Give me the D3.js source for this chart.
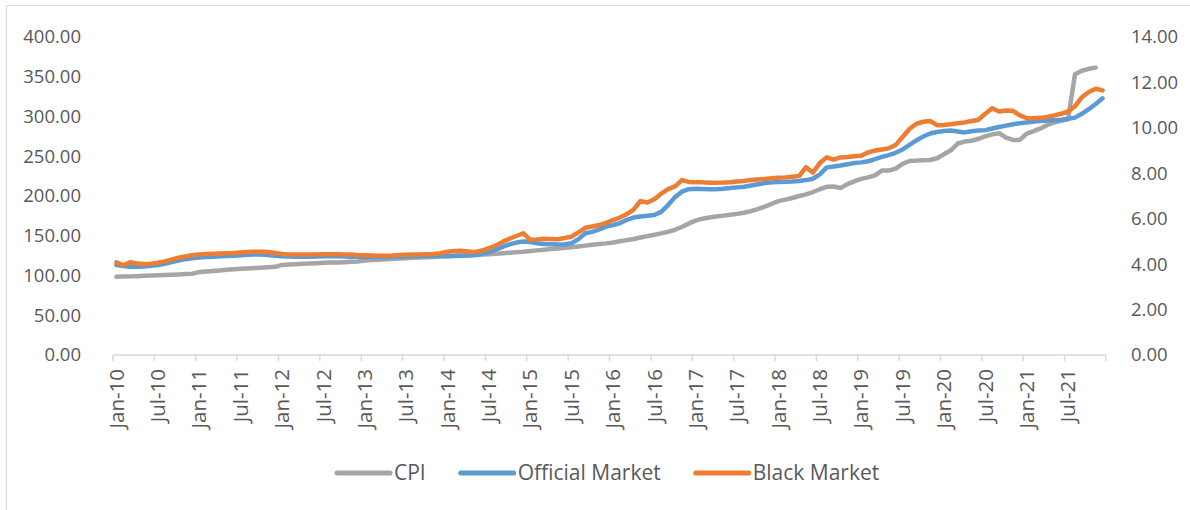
<!DOCTYPE html>
<html>
<head>
<meta charset="utf-8">
<script src="https://cdn.jsdelivr.net/npm/d3@7"></script>
<style>
  body { margin: 0; background: #fff; }
  svg { display: block; }
  text { font-family: "Open Sans", "Liberation Sans", sans-serif; fill: #595959; }
</style>
</head>
<body>
<svg id="chart" width="1190" height="510"></svg>
<script>
// monthly categories Jan-10 .. Dec-21
var months = d3.timeMonth.range(new Date(2010, 0, 1), new Date(2022, 0, 1));

var leftTicks = [0, 50, 100, 150, 200, 250, 300, 350, 400];
var rightTicks = [0, 2, 4, 6, 8, 10, 12, 14];

// CPI (left axis)
var cpi = [
  98.3, 98.6, 98.9, 99.2, 99.6, 100.0, 100.4, 100.7, 101.0, 101.4, 101.8, 102.3,
  104.3, 105.0, 105.7, 106.4, 107.2, 107.8, 108.4, 108.9, 109.4, 109.9, 110.4, 110.9,
  113.3, 113.8, 114.3, 114.7, 115.1, 115.5, 115.9, 116.2, 116.5, 116.8, 117.2, 117.6,
  118.9, 119.4, 119.9, 120.4, 120.9, 121.4, 121.8, 122.2, 122.6, 123.0, 123.4, 123.8,
  124.4, 124.8, 125.2, 125.6, 125.9, 126.3, 126.8, 127.3, 127.9, 128.5, 129.2, 129.9,
  130.8, 131.6, 132.4, 133.2, 134.0, 134.8, 135.5, 136.5, 137.6, 138.6, 139.6, 140.4,
  141.5, 143.0, 144.5, 146.0, 147.8, 149.5, 151.2, 153.0, 155.0, 157.5, 161.0, 165.5,
  169.0, 171.5, 173.0, 174.3, 175.3, 176.3, 177.5, 179.0, 181.0, 183.5, 186.5, 190.0,
  193.5, 195.5, 197.5, 200.0, 202.0, 205.0, 208.5, 211.5, 212.0, 210.0, 215.0, 218.5,
  221.5, 223.5, 226.0, 232.0, 232.0, 234.5, 240.5, 244.0, 244.5, 245.0, 245.3, 247.5,
  252.5, 257.5, 266.0, 268.5, 269.5, 272.0, 275.0, 277.5, 279.0, 273.5, 270.5, 270.5,
  278.5, 281.5, 285.0, 289.3, 292.5, 294.5, 296.5, 353.0, 357.5, 360.0, 361.5, null
];

// Official Market (right axis)
var official = [
  3.96, 3.92, 3.89, 3.88, 3.90, 3.93, 3.96, 4.02, 4.09, 4.16, 4.22, 4.26,
  4.29, 4.31, 4.33, 4.35, 4.36, 4.37, 4.39, 4.41, 4.42, 4.42, 4.40, 4.37,
  4.35, 4.34, 4.33, 4.33, 4.33, 4.34, 4.35, 4.35, 4.35, 4.34, 4.33, 4.32,
  4.31, 4.31, 4.31, 4.31, 4.32, 4.33, 4.34, 4.35, 4.36, 4.36, 4.36, 4.36,
  4.35, 4.36, 4.37, 4.38, 4.40, 4.45, 4.53, 4.64, 4.76, 4.87, 4.95, 5.00,
  4.97, 4.92, 4.89, 4.88, 4.86, 4.88, 4.92, 5.10, 5.36, 5.42, 5.53, 5.65,
  5.72, 5.80, 5.95, 6.05, 6.10, 6.13, 6.16, 6.30, 6.60, 6.95, 7.19, 7.30,
  7.32, 7.31, 7.30, 7.30, 7.32, 7.35, 7.38, 7.41, 7.46, 7.52, 7.57, 7.60,
  7.62, 7.63, 7.64, 7.66, 7.70, 7.76, 7.95, 8.26, 8.30, 8.34, 8.40, 8.45,
  8.48, 8.53, 8.62, 8.72, 8.80, 8.90, 9.05, 9.25, 9.45, 9.62, 9.75, 9.82,
  9.86, 9.88, 9.84, 9.80, 9.85, 9.88, 9.90, 9.97, 10.04, 10.10, 10.16, 10.20,
  10.24, 10.28, 10.30, 10.32, 10.34, 10.36, 10.40, 10.45, 10.62, 10.82, 11.05, 11.30
];

// Black Market (right axis)
var black = [
  4.08, 3.95, 4.08, 4.03, 4.01, 4.02, 4.06, 4.12, 4.20, 4.28, 4.34, 4.39,
  4.43, 4.45, 4.46, 4.47, 4.48, 4.49, 4.51, 4.53, 4.55, 4.55, 4.53, 4.49,
  4.45, 4.43, 4.42, 4.42, 4.42, 4.43, 4.44, 4.44, 4.44, 4.43, 4.42, 4.40,
  4.39, 4.38, 4.37, 4.37, 4.38, 4.40, 4.41, 4.42, 4.43, 4.44, 4.45, 4.48,
  4.55, 4.58, 4.59, 4.56, 4.53, 4.60, 4.70, 4.82, 4.98, 5.12, 5.24, 5.36,
  5.07, 5.09, 5.12, 5.11, 5.10, 5.15, 5.21, 5.40, 5.60, 5.66, 5.72, 5.82,
  5.94, 6.05, 6.20, 6.40, 6.78, 6.71, 6.86, 7.10, 7.30, 7.42, 7.70, 7.62,
  7.60, 7.60, 7.58, 7.58, 7.59, 7.61, 7.64, 7.66, 7.70, 7.73, 7.75, 7.78,
  7.80, 7.82, 7.85, 7.88, 8.27, 8.03, 8.45, 8.70, 8.60, 8.70, 8.72, 8.75,
  8.77, 8.92, 9.00, 9.05, 9.10, 9.25, 9.60, 9.95, 10.18, 10.27, 10.30, 10.12,
  10.13, 10.16, 10.20, 10.24, 10.30, 10.36, 10.62, 10.86, 10.72, 10.76, 10.75, 10.55,
  10.43, 10.42, 10.44, 10.48, 10.55, 10.62, 10.72, 10.95, 11.35, 11.58, 11.72, 11.65
];

var seriesNames = ["CPI", "Official Market", "Black Market"];
var seriesColors = ["#A5A5A5", "#5B9BD5", "#ED7D31"];

var svg = d3.select("#chart");

var margin = { top: 37, right: 84, bottom: 155, left: 113 };
var width = 1190 - margin.left - margin.right;
var height = 510 - margin.top - margin.bottom;

// chart area border (right and bottom edges fall outside the picture)
svg.append("rect")
  .attr("x", 6.5).attr("y", 5.5)
  .attr("width", 1200).attr("height", 540)
  .attr("fill", "none")
  .attr("stroke", "#D9D9D9");

var plot = svg.append("g")
  .attr("transform", "translate(" + margin.left + "," + margin.top + ")");

var x = d3.scaleBand().domain(months).range([0, width]).padding(0);
var yLeft = d3.scaleLinear().domain([0, 400]).range([height, 0]);
var yRight = d3.scaleLinear().domain([0, 14]).range([height, 0]);

var fmtMonth = d3.timeFormat("%b-%y");
var labelled = months.filter(function(d, i) { return i % 6 === 0; });

// left axis
var gl = plot.append("g")
  .call(d3.axisLeft(yLeft).tickValues(leftTicks).tickFormat(d3.format(".2f")).tickSize(0).tickPadding(32));
gl.select(".domain").remove();

// right axis
var gr = plot.append("g")
  .attr("transform", "translate(" + width + ",0)")
  .call(d3.axisRight(yRight).tickValues(rightTicks).tickFormat(d3.format(".2f")).tickSize(0).tickPadding(25));
gr.select(".domain").remove();

[gl, gr].forEach(function(g) {
  g.selectAll("text").style("font-size", "18.5px").attr("fill", "#595959");
});

// x axis line and tick marks at category boundaries
var gx = plot.append("g")
  .attr("transform", "translate(0," + height + ")");

gx.append("line")
  .attr("x1", 0).attr("x2", width)
  .attr("stroke", "#D9D9D9").attr("stroke-width", 1.5);

var tickPos = labelled.map(function(d) { return x(d); }).concat([width]);
gx.selectAll("line.tick")
  .data(tickPos)
  .enter().append("line")
  .attr("class", "tick")
  .attr("x1", function(d) { return d; })
  .attr("x2", function(d) { return d; })
  .attr("y1", 0).attr("y2", 6)
  .attr("stroke", "#D9D9D9").attr("stroke-width", 1.5);

// x labels
var gxl = plot.append("g")
  .attr("transform", "translate(0," + height + ")")
  .call(d3.axisBottom(x).tickValues(labelled).tickFormat(fmtMonth).tickSize(0));
gxl.select(".domain").remove();
gxl.selectAll("text")
  .style("font-size", "20.5px")
  .attr("fill", "#595959")
  .attr("text-anchor", "end")
  .attr("transform", "rotate(-90)")
  .attr("x", -14)
  .attr("y", 0)
  .attr("dy", "0.35em");

// lines
var data = [cpi, official, black];
var scales = [yLeft, yRight, yRight];

data.forEach(function(values, k) {
  var line = d3.line()
    .defined(function(d) { return d != null; })
    .x(function(d, i) { return x(months[i]) + x.bandwidth() / 2; })
    .y(function(d) { return scales[k](d); });

  plot.append("path")
    .datum(values)
    .attr("fill", "none")
    .attr("stroke", seriesColors[k])
    .attr("stroke-width", 4.5)
    .attr("stroke-linejoin", "round")
    .attr("stroke-linecap", "round")
    .attr("d", line);
});

// legend
var legend = svg.append("g").attr("transform", "translate(0,473)");
var lx = 337;
seriesNames.forEach(function(name, k) {
  legend.append("line")
    .attr("x1", lx).attr("x2", lx + 53)
    .attr("stroke", seriesColors[k])
    .attr("stroke-width", 5)
    .attr("stroke-linecap", "round");
  var t = legend.append("text")
    .attr("x", lx + 57)
    .attr("dy", "0.35em")
    .style("font-size", "21px")
    .text(name);
  lx += 57 + t.node().getComputedTextLength() + 35;
});
</script>
</body>
</html>
